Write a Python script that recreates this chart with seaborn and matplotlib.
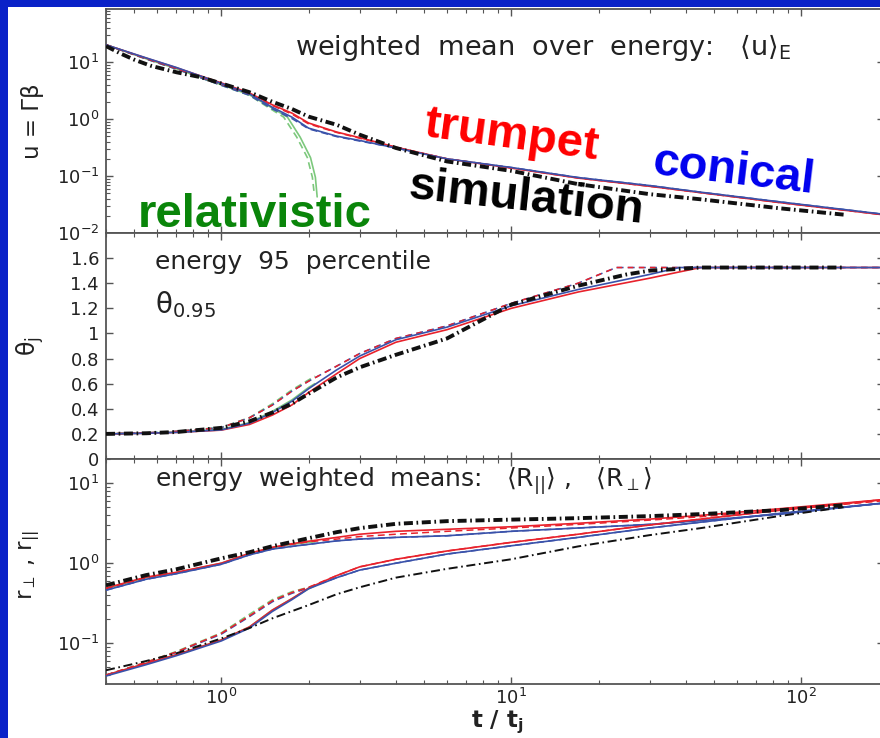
import numpy as np
import pandas as pd
import matplotlib
matplotlib.use("Agg")
import matplotlib.pyplot as plt
import seaborn as sns
from matplotlib.patches import Rectangle
from matplotlib.ticker import FixedLocator, FormatStrFormatter

# ---------------- data ----------------
t_grid = [0.4, 0.55, 0.7, 1.0, 1.25, 1.5, 1.75, 2.0, 2.5, 3.0, 4.0, 6.0, 10, 17, 30, 45, 85, 190]

# top panel: u = Gamma*beta
u_trumpet = [20, 11.7, 7.9, 4.3, 2.86, 1.77, 1.27, 0.85, 0.59, 0.47, 0.32, 0.20, 0.138, 0.092, 0.066, 0.051, 0.034, 0.021]
u_trumpet_dash = [20, 11.5, 7.7, 4.1, 2.75, 1.72, 1.22, 0.82, 0.58, 0.46, 0.32, 0.20, 0.138, 0.092, 0.066, 0.051, 0.034, 0.021]
u_conical = [20, 11.8, 8.0, 4.2, 2.75, 1.6, 1.08, 0.69, 0.50, 0.42, 0.31, 0.20, 0.141, 0.094, 0.068, 0.052, 0.035, 0.0215]
u_conical_dash = [20, 11.3, 7.5, 3.9, 2.6, 1.5, 1.02, 0.67, 0.49, 0.41, 0.31, 0.20, 0.141, 0.094, 0.068, 0.052, 0.035, 0.0215]
t_rel = [0.4, 0.55, 0.7, 1.0, 1.25, 1.5, 1.69, 1.87, 2.03, 2.11, 2.14]
u_rel = [20, 11.4, 7.6, 4.0, 2.65, 1.55, 1.08, 0.48, 0.21, 0.095, 0.043]
t_rel_dash = [0.4, 0.55, 0.7, 1.0, 1.25, 1.45, 1.64, 1.82, 1.98, 2.06, 2.09]
u_rel_dash = [20, 11.3, 7.5, 3.9, 2.6, 1.6, 1.08, 0.48, 0.21, 0.095, 0.05]
t_sim_u = [0.4, 0.45, 0.5, 0.57, 0.7, 0.85, 1.0, 1.25, 1.5, 1.75, 2.0, 2.5, 3.0, 4.0, 6.0, 10, 17, 30, 45, 85, 140]
u_sim = [19, 14.0, 11.0, 8.6, 6.6, 5.4, 4.2, 2.95, 2.0, 1.5, 1.1, 0.79, 0.53, 0.31, 0.18, 0.123, 0.072, 0.048, 0.039, 0.027, 0.021]

# middle panel: theta_j
t_theta = [0.4, 0.55, 0.7, 1.0, 1.25, 1.5, 1.75, 2.0, 2.5, 3.0, 4.0, 6.0, 10, 17, 30, 38, 45, 85, 190]
th_conical = [0.2, 0.205, 0.212, 0.232, 0.285, 0.37, 0.46, 0.56, 0.71, 0.82, 0.95, 1.05, 1.22, 1.35, 1.47, 1.525, 1.525, 1.525, 1.525]
th_trumpet = [0.2, 0.205, 0.212, 0.23, 0.275, 0.35, 0.43, 0.53, 0.68, 0.80, 0.93, 1.03, 1.20, 1.33, 1.44, 1.49, 1.525, 1.525, 1.525]
t_theta_dash = [0.4, 0.55, 0.7, 1.0, 1.25, 1.5, 1.75, 2.0, 2.5, 3.0, 4.0, 6.0, 10, 17, 23, 45, 190]
th_dash = [0.2, 0.208, 0.22, 0.25, 0.328, 0.43, 0.54, 0.62, 0.74, 0.84, 0.96, 1.06, 1.24, 1.40, 1.525, 1.525, 1.525]
t_rel_th = [0.4, 0.55, 0.7, 1.0, 1.25, 1.5, 1.75, 2.0, 2.1]
th_rel = [0.2, 0.206, 0.214, 0.236, 0.29, 0.38, 0.47, 0.57, 0.60]
th_rel_dash = [0.2, 0.208, 0.22, 0.252, 0.33, 0.44, 0.55, 0.63, 0.66]
t_sim_th = [0.4, 0.55, 0.7, 1.0, 1.25, 1.5, 1.75, 2.0, 2.5, 3.0, 4.0, 6.0, 10, 17, 25, 30, 45, 85, 140]
th_sim = [0.2, 0.205, 0.215, 0.248, 0.30, 0.37, 0.44, 0.52, 0.65, 0.73, 0.83, 0.96, 1.23, 1.38, 1.47, 1.50, 1.525, 1.525, 1.525]

# bottom panel: r_perp (upper group), r_par (lower group)
r_up_trumpet = [0.49, 0.67, 0.77, 1.0, 1.33, 1.58, 1.75, 1.88, 2.1, 2.3, 2.5, 2.65, 2.85, 3.15, 3.55, 3.95, 4.8, 6.2]
r_up_trumpet_dash = [0.48, 0.66, 0.76, 0.99, 1.3, 1.55, 1.72, 1.85, 2.0, 2.15, 2.3, 2.5, 2.75, 3.05, 3.45, 3.8, 4.6, 6.0]
r_up_conical = [0.46, 0.63, 0.74, 0.97, 1.27, 1.5, 1.62, 1.72, 1.9, 2.0, 2.1, 2.2, 2.5, 2.75, 3.05, 3.4, 4.1, 5.6]
r_lo_trumpet = [0.04, 0.056, 0.072, 0.11, 0.16, 0.26, 0.36, 0.49, 0.7, 0.9, 1.12, 1.42, 1.82, 2.3, 3.0, 3.55, 4.6, 6.2]
r_lo_conical = [0.039, 0.054, 0.07, 0.107, 0.155, 0.25, 0.35, 0.48, 0.66, 0.82, 1.0, 1.3, 1.65, 2.1, 2.75, 3.25, 4.2, 5.6]
r_lo_trumpet_dash = [0.04, 0.058, 0.078, 0.133, 0.22, 0.34, 0.43, 0.5, 0.7, 0.9, 1.12, 1.42, 1.82, 2.3, 3.0, 3.55, 4.6, 6.2]
r_lo_conical_dash = [0.04, 0.057, 0.077, 0.13, 0.215, 0.33, 0.42, 0.49, 0.66, 0.82, 1.0, 1.3, 1.65, 2.1, 2.75, 3.25, 4.2, 5.6]
r_up_rel = [0.48, 0.66, 0.76, 1.0, 1.32, 1.56, 1.72, 1.82, 1.85]
r_lo_rel = [0.04, 0.056, 0.072, 0.11, 0.16, 0.26, 0.36, 0.48, 0.52]
r_lo_rel_dash = [0.04, 0.058, 0.079, 0.135, 0.23, 0.35, 0.44, 0.5, 0.53]
t_sim_r = [0.4, 0.55, 0.7, 1.0, 1.25, 1.5, 2.0, 2.5, 3.0, 4.0, 6.0, 10, 17, 30, 45, 85, 140]
r_up_sim = [0.53, 0.71, 0.84, 1.15, 1.37, 1.63, 2.05, 2.44, 2.74, 3.1, 3.35, 3.5, 3.65, 3.87, 4.1, 4.6, 5.3]
r_lo_sim = [0.046, 0.06, 0.075, 0.115, 0.155, 0.205, 0.30, 0.41, 0.5, 0.66, 0.85, 1.12, 1.62, 2.24, 2.74, 3.9, 5.0]

xtick_vals = [1, 10, 100]
theta_ticks = [0, 0.2, 0.4, 0.6, 0.8, 1.0, 1.2, 1.4, 1.6]

# ---------------- style ----------------
sns.set_style("ticks")
plt.rcParams["font.family"] = ["DejaVu Sans"]
plt.rcParams["mathtext.fontset"] = "dejavusans"
plt.rcParams["lines.scale_dashes"] = False

BG = "#0A22C8"
RED = "#E8222C"
BLUE = "#3A52AA"
GREEN = "#5CBB5C"
BLACK = "#111111"
SPINE = "#555555"
TXT = "#222222"

W, H = 880, 738
fig = plt.figure(figsize=(8.8, 7.38), dpi=100, facecolor=BG)
fig.patches.append(Rectangle((8 / W, 0), 1, 731 / H, transform=fig.transFigure,
                             facecolor="white", edgecolor="none", zorder=-5))

def fx(px):
    return px / W

def fy(py):
    return 1 - py / H

left, right = 106, 884
ax_top = fig.add_axes([fx(left), fy(233), (right - left) / W, (233 - 9) / H])
ax_mid = fig.add_axes([fx(left), fy(459), (right - left) / W, (459 - 233) / H], sharex=ax_top)
ax_bot = fig.add_axes([fx(left), fy(684), (right - left) / W, (684 - 459) / H], sharex=ax_top)

for ax in (ax_top, ax_mid, ax_bot):
    ax.set_xscale("log")
    ax.set_facecolor("white")
ax_top.set_yscale("log")
ax_bot.set_yscale("log")

DASH = (5, 3)
DASHDOT = (6.5, 2.6, 1.2, 2.6)

def draw(ax, t, y, color, lw, dashes=None, z=2, alpha=1.0):
    sns.lineplot(x=t, y=y, ax=ax, color=color, linewidth=lw, estimator=None,
                 sort=False, legend=False, zorder=z, alpha=alpha)
    ln = ax.lines[-1]
    if dashes is not None:
        ln.set_dashes(dashes)
    return ln

# top panel
draw(ax_top, t_rel_dash, u_rel_dash, GREEN, 1.2, DASH, z=2, alpha=0.8)
draw(ax_top, t_rel, u_rel, GREEN, 1.2, None, z=2, alpha=0.8)
draw(ax_top, t_grid, u_conical_dash, BLUE, 1.1, DASH, z=3)
draw(ax_top, t_grid, u_trumpet_dash, RED, 1.1, DASH, z=3)
draw(ax_top, t_grid, u_trumpet, RED, 1.2, None, z=4)
draw(ax_top, t_grid, u_conical, BLUE, 1.2, None, z=4)
draw(ax_top, t_sim_u, u_sim, BLACK, 2.8, DASHDOT, z=5)

# middle panel
draw(ax_mid, t_rel_th, th_rel_dash, GREEN, 1.2, DASH, z=2, alpha=0.8)
draw(ax_mid, t_rel_th, th_rel, GREEN, 1.2, None, z=2, alpha=0.8)
draw(ax_mid, t_theta_dash, th_dash, BLUE, 1.1, DASH, z=3)
draw(ax_mid, t_theta_dash, th_dash, RED, 1.1, (4, 4), z=3)
draw(ax_mid, t_theta, th_trumpet, RED, 1.2, None, z=4)
draw(ax_mid, t_theta, th_conical, BLUE, 1.2, None, z=4)
draw(ax_mid, t_sim_th, th_sim, BLACK, 2.8, DASHDOT, z=5)

# bottom panel
draw(ax_bot, t_rel_th, r_up_rel, GREEN, 1.2, None, z=2, alpha=0.8)
draw(ax_bot, t_rel_th, r_lo_rel, GREEN, 1.2, None, z=2, alpha=0.8)
draw(ax_bot, t_rel_th, r_lo_rel_dash, GREEN, 1.2, DASH, z=2, alpha=0.8)
draw(ax_bot, t_grid, r_lo_conical_dash, BLUE, 1.1, DASH, z=3)
draw(ax_bot, t_grid, r_lo_trumpet_dash, RED, 1.1, DASH, z=3)
draw(ax_bot, t_grid, r_up_trumpet_dash, RED, 1.1, DASH, z=3)
draw(ax_bot, t_grid, r_up_conical, BLUE, 1.1, DASH, z=3)
draw(ax_bot, t_grid, r_up_trumpet, RED, 1.2, None, z=4)
draw(ax_bot, t_grid, r_up_conical, BLUE, 1.2, None, z=4)
draw(ax_bot, t_grid, r_lo_trumpet, RED, 1.2, None, z=4)
draw(ax_bot, t_grid, r_lo_conical, BLUE, 1.2, None, z=4)
draw(ax_bot, t_sim_r, r_up_sim, BLACK, 2.8, DASHDOT, z=5)
draw(ax_bot, t_sim_r, r_lo_sim, BLACK, 1.4, DASHDOT, z=5)

# limits and ticks
ax_top.set_xlim(0.4, 193)
ax_top.set_ylim(0.01, 85)
ax_mid.set_ylim(0, 1.8)
ax_bot.set_ylim(0.031, 20)
ax_mid.yaxis.set_major_locator(FixedLocator(theta_ticks))
ax_mid.yaxis.set_major_formatter(FormatStrFormatter("%g"))
ax_bot.xaxis.set_major_locator(FixedLocator(xtick_vals))

for ax in (ax_top, ax_mid, ax_bot):
    for s in ax.spines.values():
        s.set_color(SPINE)
        s.set_linewidth(1.3)
    ax.tick_params(which="both", direction="in", top=True, right=True,
                   color=SPINE, labelcolor=TXT, labelsize=13, pad=5)
    ax.tick_params(which="major", length=5, width=1.0)
    ax.tick_params(which="minor", length=3, width=0.8)
    ax.set_xlabel("")
    ax.set_ylabel("")
ax_top.tick_params(labelbottom=False)
ax_mid.tick_params(labelbottom=False)
ax_bot.tick_params(axis="x", pad=3)

# axis labels
ax_top.set_ylabel("u = Γβ", fontsize=16.5, color=TXT, ha="center", va="center")
ax_top.yaxis.set_label_coords((32 - left) / (right - left), 0.5)
ax_mid.set_ylabel(r"θ$_{\mathrm{j}}$", fontsize=17, color=TXT, ha="center", va="center")
ax_mid.yaxis.set_label_coords((30 - left) / (right - left), 0.5)
ax_bot.set_ylabel(r"r$_{\perp}$ , r$_{||}$", fontsize=16.5, color=TXT, ha="center", va="center")
ax_bot.yaxis.set_label_coords((30 - left) / (right - left), 0.53)
fig.text(fx(497), fy(727), r"t / t$_{\mathbf{j}}$", fontsize=16.5, fontweight="bold",
         color=TXT, ha="center", va="baseline")

# annotations
fig.text(fx(295), fy(55), r"weighted  mean  over  energy:   $\langle\mathrm{u}\rangle_{\mathrm{E}}$",
         fontsize=19.5, color=TXT, ha="left", va="baseline")
fig.text(fx(155), fy(269), "energy  95  percentile", fontsize=18, color=TXT,
         ha="left", va="baseline")
fig.text(fx(155), fy(313), r"θ$_{\mathrm{0.95}}$", fontsize=20, color=TXT,
         ha="left", va="baseline")
fig.text(fx(155), fy(486),
         r"energy  weighted  means:   $\langle\mathrm{R}_{||}\rangle$ ,   $\langle\mathrm{R}_{\perp}\rangle$",
         fontsize=18, color=TXT, ha="left", va="baseline")

big = dict(fontsize=34, fontweight="bold", family=["Liberation Sans", "DejaVu Sans"],
           ha="center", va="baseline", rotation_mode="anchor")
fig.text(fx(510), fy(148), "trumpet", color="#FF0000", rotation=-7.7, **big)
fig.text(fx(732), fy(184), "conical", color="#0000EE", rotation=-6.8, **big)
fig.text(fx(525), fy(211), "simulation", color="#000000", rotation=-6.1, **big)
fig.text(fx(255), fy(227), "relativistic", color="#0A850A", rotation=0, **big)

fig.savefig("out.png", dpi=100, facecolor=BG)
